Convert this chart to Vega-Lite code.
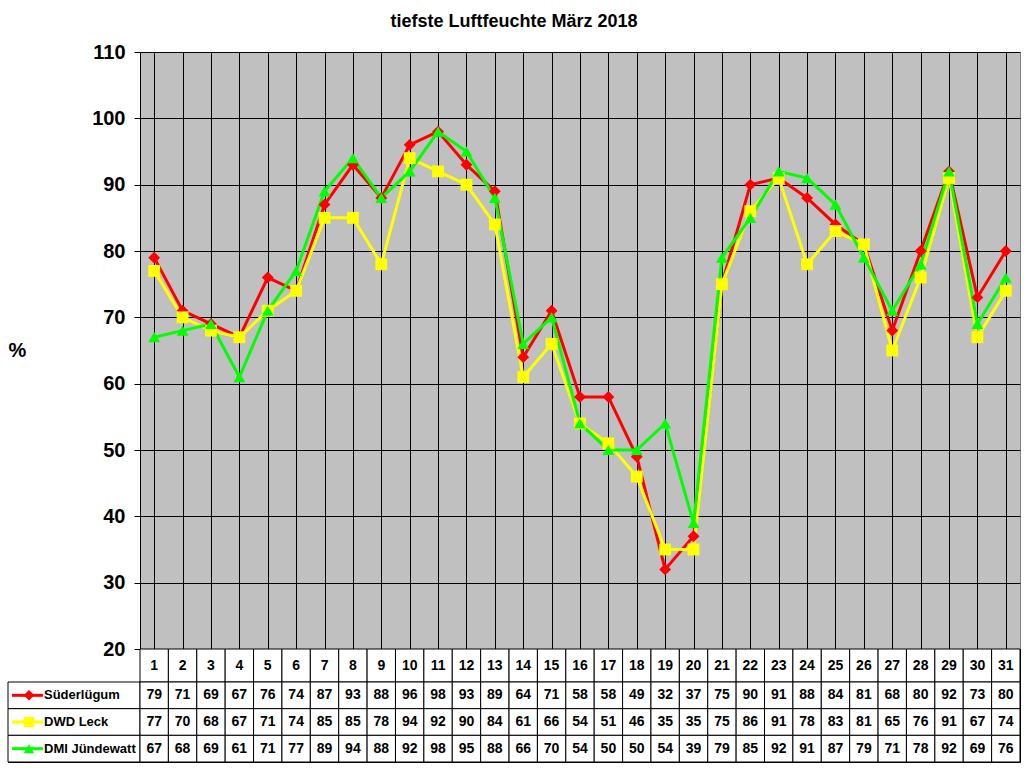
{
  "$schema": "https://vega.github.io/schema/vega-lite/v6.json",
  "padding": {"left": 7, "top": 12, "right": 4, "bottom": 4},
  "background": "white",
  "title": {"text": "tiefste Luftfeuchte März 2018", "font": "Liberation Sans", "fontSize": 18, "fontWeight": "bold", "color": "black", "anchor": "middle", "offset": 11},
  "config": {"font": "Liberation Sans", "view": {"stroke": null}},
  "data": {"values": [
    {"day": 1, "Süderlügum": 79, "DWD Leck": 77, "DMI Jündewatt": 67},
    {"day": 2, "Süderlügum": 71, "DWD Leck": 70, "DMI Jündewatt": 68},
    {"day": 3, "Süderlügum": 69, "DWD Leck": 68, "DMI Jündewatt": 69},
    {"day": 4, "Süderlügum": 67, "DWD Leck": 67, "DMI Jündewatt": 61},
    {"day": 5, "Süderlügum": 76, "DWD Leck": 71, "DMI Jündewatt": 71},
    {"day": 6, "Süderlügum": 74, "DWD Leck": 74, "DMI Jündewatt": 77},
    {"day": 7, "Süderlügum": 87, "DWD Leck": 85, "DMI Jündewatt": 89},
    {"day": 8, "Süderlügum": 93, "DWD Leck": 85, "DMI Jündewatt": 94},
    {"day": 9, "Süderlügum": 88, "DWD Leck": 78, "DMI Jündewatt": 88},
    {"day": 10, "Süderlügum": 96, "DWD Leck": 94, "DMI Jündewatt": 92},
    {"day": 11, "Süderlügum": 98, "DWD Leck": 92, "DMI Jündewatt": 98},
    {"day": 12, "Süderlügum": 93, "DWD Leck": 90, "DMI Jündewatt": 95},
    {"day": 13, "Süderlügum": 89, "DWD Leck": 84, "DMI Jündewatt": 88},
    {"day": 14, "Süderlügum": 64, "DWD Leck": 61, "DMI Jündewatt": 66},
    {"day": 15, "Süderlügum": 71, "DWD Leck": 66, "DMI Jündewatt": 70},
    {"day": 16, "Süderlügum": 58, "DWD Leck": 54, "DMI Jündewatt": 54},
    {"day": 17, "Süderlügum": 58, "DWD Leck": 51, "DMI Jündewatt": 50},
    {"day": 18, "Süderlügum": 49, "DWD Leck": 46, "DMI Jündewatt": 50},
    {"day": 19, "Süderlügum": 32, "DWD Leck": 35, "DMI Jündewatt": 54},
    {"day": 20, "Süderlügum": 37, "DWD Leck": 35, "DMI Jündewatt": 39},
    {"day": 21, "Süderlügum": 75, "DWD Leck": 75, "DMI Jündewatt": 79},
    {"day": 22, "Süderlügum": 90, "DWD Leck": 86, "DMI Jündewatt": 85},
    {"day": 23, "Süderlügum": 91, "DWD Leck": 91, "DMI Jündewatt": 92},
    {"day": 24, "Süderlügum": 88, "DWD Leck": 78, "DMI Jündewatt": 91},
    {"day": 25, "Süderlügum": 84, "DWD Leck": 83, "DMI Jündewatt": 87},
    {"day": 26, "Süderlügum": 81, "DWD Leck": 81, "DMI Jündewatt": 79},
    {"day": 27, "Süderlügum": 68, "DWD Leck": 65, "DMI Jündewatt": 71},
    {"day": 28, "Süderlügum": 80, "DWD Leck": 76, "DMI Jündewatt": 78},
    {"day": 29, "Süderlügum": 92, "DWD Leck": 91, "DMI Jündewatt": 92},
    {"day": 30, "Süderlügum": 73, "DWD Leck": 67, "DMI Jündewatt": 69},
    {"day": 31, "Süderlügum": 80, "DWD Leck": 74, "DMI Jündewatt": 76}
  ]},
  "transform": [{"fold": ["Süderlügum", "DWD Leck", "DMI Jündewatt"], "as": ["series", "value"]}],
  "columns": 2,
  "spacing": 0,
  "bounds": "flush",
  "concat": [
    {
      "width": 132, "height": 597,
      "mark": {"type": "text"},
      "encoding": {"text": {"value": ""}}
    },
    {
      "width": 880, "height": 597,
      "view": {"fill": "#C0C0C0", "stroke": "#808080"},
      "encoding": {
        "x": {"field": "day", "type": "ordinal", "scale": {"paddingInner": 0, "paddingOuter": 0},
          "axis": {"labels": false, "ticks": false, "domain": false, "title": null, "grid": true, "bandPosition": 0, "gridColor": "black", "gridOpacity": 1, "gridWidth": 1}},
        "y": {"field": "value", "type": "quantitative", "scale": {"domain": [20, 110], "nice": false, "zero": false},
          "axis": {"values": [20, 30, 40, 50, 60, 70, 80, 90, 100, 110], "grid": true, "gridColor": "black", "gridOpacity": 1, "gridWidth": 1,
            "domainColor": "black", "domainWidth": 1, "tickColor": "black", "tickSize": 6, "labelFontSize": 20, "labelFontWeight": "bold", "labelColor": "black", "labelPadding": 9,
            "title": "%", "titleAngle": 0, "titleX": -123, "titleY": 298, "titleFontSize": 20, "titleFontWeight": "bold", "titleColor": "black", "titleAlign": "center", "titleBaseline": "middle"}},
        "color": {"field": "series", "type": "nominal", "scale": {"domain": ["Süderlügum", "DWD Leck", "DMI Jündewatt"], "range": ["#FF0000", "#FFFF00", "#00FF00"]}, "legend": null}
      },
      "layer": [
        {"mark": {"type": "line", "strokeWidth": 3}},
        {"mark": {"type": "point", "filled": true, "opacity": 1, "size": 140},
          "encoding": {"shape": {"field": "series", "type": "nominal", "scale": {"domain": ["Süderlügum", "DWD Leck", "DMI Jündewatt"], "range": ["diamond", "square", "triangle-up"]}, "legend": null}}}
      ]
    },
    {
      "width": 132, "height": 33,
      "mark": {"type": "text"},
      "encoding": {"text": {"value": ""}}
    },
    {
      "width": 880, "height": 33,
      "view": {"fill": "white", "stroke": "black"},
      "transform": [{"filter": "datum.series === 'Süderlügum'"}],
      "encoding": {
        "x": {"field": "day", "type": "ordinal", "scale": {"paddingInner": 0, "paddingOuter": 0}, "axis": null}
      },
      "layer": [
        {"mark": {"type": "rect", "fill": "white", "stroke": "black", "strokeWidth": 1}},
        {"mark": {"type": "text", "fontSize": 14, "fontWeight": "bold", "color": "black"},
          "encoding": {"text": {"field": "day", "type": "ordinal"}}}
      ]
    },
    {
      "width": 132, "height": 80,
      "view": {"fill": "white", "stroke": "black"},
      "transform": [{"filter": "datum.day === 1"}],
      "encoding": {
        "y": {"field": "series", "type": "nominal", "scale": {"domain": ["Süderlügum", "DWD Leck", "DMI Jündewatt"], "paddingInner": 0, "paddingOuter": 0}, "axis": null},
        "color": {"field": "series", "type": "nominal", "scale": {"domain": ["Süderlügum", "DWD Leck", "DMI Jündewatt"], "range": ["#FF0000", "#FFFF00", "#00FF00"]}, "legend": null}
      },
      "layer": [
        {"mark": {"type": "rect", "fill": "white", "stroke": "black", "strokeWidth": 1},
          "encoding": {"x": {"datum": 0, "type": "quantitative", "scale": {"domain": [0, 132], "nice": false, "zero": false}, "axis": null}, "x2": {"datum": 132}, "color": {"value": "white"}}},
        {"mark": {"type": "rule", "strokeWidth": 3},
          "encoding": {"x": {"datum": 4, "type": "quantitative"}, "x2": {"datum": 35}}},
        {"mark": {"type": "point", "filled": true, "opacity": 1, "size": 110},
          "encoding": {"x": {"datum": 21, "type": "quantitative"},
            "shape": {"field": "series", "type": "nominal", "scale": {"domain": ["Süderlügum", "DWD Leck", "DMI Jündewatt"], "range": ["diamond", "square", "triangle-up"]}, "legend": null}}},
        {"mark": {"type": "text", "align": "left", "fontSize": 13, "fontWeight": "bold", "color": "black"},
          "encoding": {"x": {"datum": 36, "type": "quantitative"}, "text": {"field": "series"}, "color": {"value": "black"}}}
      ]
    },
    {
      "width": 880, "height": 80,
      "view": {"fill": "white", "stroke": "black"},
      "encoding": {
        "x": {"field": "day", "type": "ordinal", "scale": {"paddingInner": 0, "paddingOuter": 0}, "axis": null},
        "y": {"field": "series", "type": "nominal", "scale": {"domain": ["Süderlügum", "DWD Leck", "DMI Jündewatt"], "paddingInner": 0, "paddingOuter": 0}, "axis": null}
      },
      "layer": [
        {"mark": {"type": "rect", "fill": "white", "stroke": "black", "strokeWidth": 1}},
        {"mark": {"type": "text", "fontSize": 14, "fontWeight": "bold", "color": "black"},
          "encoding": {"text": {"field": "value", "type": "quantitative"}}}
      ]
    }
  ]
}
